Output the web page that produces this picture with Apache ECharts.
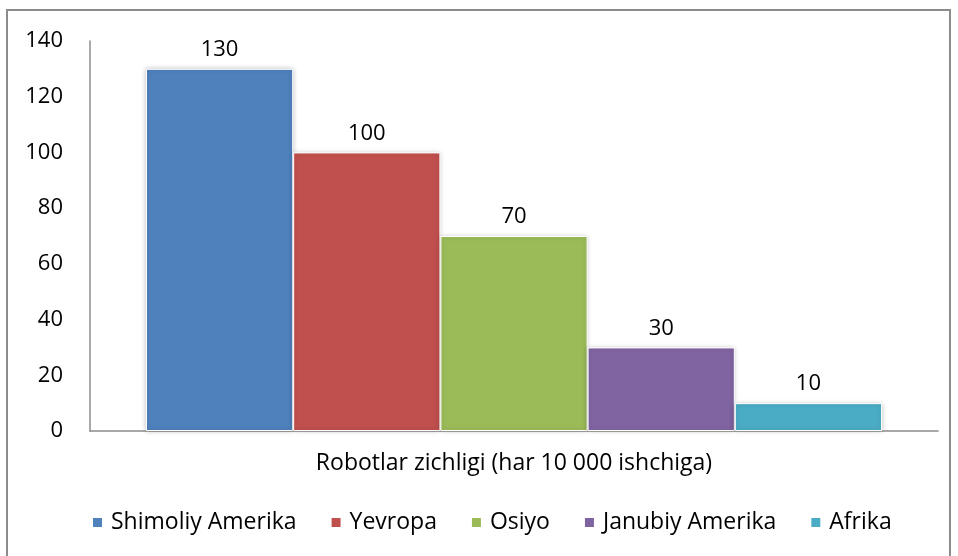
<!DOCTYPE html>
<html>
<head>
<meta charset="utf-8">
<script src="https://cdn.jsdelivr.net/npm/echarts@6/dist/echarts.min.js"></script>
<style>
	html, body { margin:0; padding:0; background:#fff; }
	#robot_chart { width:958px; height:556px; }
</style>
</head>
<body>
<div id="robot_chart"></div>
<script>
var regions = ['Shimoliy Amerika', 'Yevropa', 'Osiyo', 'Janubiy Amerika', 'Afrika'];
var density = [130, 100, 70, 30, 10];
var colors = ['#4F81BD', '#C0504D', '#9BBB59', '#8064A2', '#4BACC6'];
var categories = ['Robotlar zichligi (har 10 000 ishchiga)'];
var yTicks = [0, 20, 40, 60, 80, 100, 120, 140];

var font = '"Open Sans", sans-serif';

var series = [];
for (var i = 0; i < regions.length; ++i) {
	series.push({
		name: regions[i],
		type: 'bar',
		data: [density[i]],
		barGap: '0%',
		barCategoryGap: '13.2%',
		itemStyle: {
			color: colors[i],
			borderColor: '#fff',
			borderWidth: 1,
			shadowBlur: 5,
			shadowColor: 'rgba(0,0,0,0.22)'
		},
		label: {
			show: true,
			position: 'top',
			distance: 8,
			color: '#000',
			fontFamily: font,
			fontSize: 22
		}
	});
}

var option = {
	animation: false,
	color: colors,
	graphic: [{
		type: 'rect',
		shape: { x: 7, y: 10, width: 943, height: 560 },
		style: { fill: 'none', stroke: '#8c8c8c', lineWidth: 2 },
		silent: true
	}],
	grid: { left: 90, right: 20, top: 41, bottom: 125 },
	legend: {
		data: regions,
		left: 86,
		top: 506,
		itemWidth: 11,
		itemHeight: 11,
		itemGap: 33,
		icon: 'rect',
		textStyle: { color: '#000', fontFamily: font, fontSize: 23, padding: [0, 0, 0, 3] }
	},
	xAxis: {
		type: 'category',
		data: categories,
		axisLine: { lineStyle: { color: '#8c8c8c', width: 1.5 } },
		axisTick: { show: false },
		axisLabel: {
			color: '#000',
			fontFamily: font,
			fontSize: 23,
			margin: 21
		}
	},
	yAxis: {
		type: 'value',
		min: yTicks[0],
		max: yTicks[yTicks.length - 1],
		interval: 20,
		splitLine: { show: false },
		axisLine: { show: true, lineStyle: { color: '#8c8c8c', width: 1.5 } },
		axisTick: { show: false },
		axisLabel: {
			color: '#000',
			fontFamily: font,
			fontSize: 22,
			margin: 27
		}
	},
	series: series
};

var chart = echarts.init(document.getElementById('robot_chart'));
chart.setOption(option);
</script>
</body>
</html>
